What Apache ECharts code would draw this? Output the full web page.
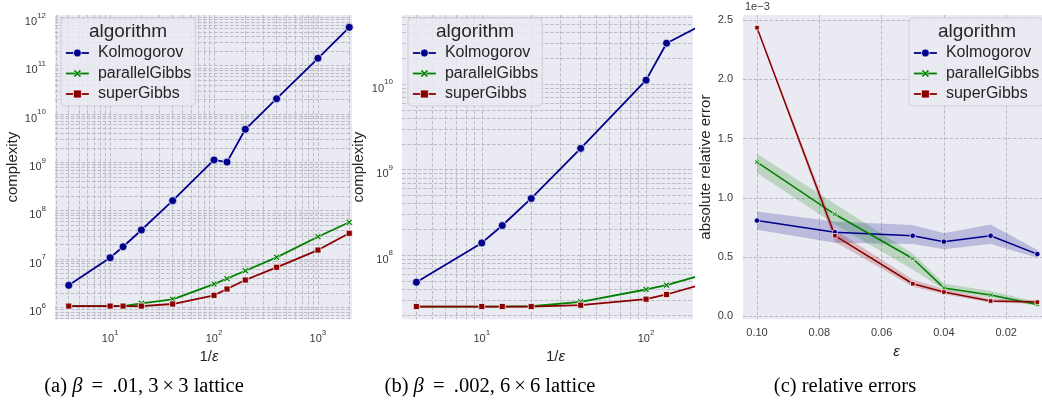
<!DOCTYPE html>
<html><head><meta charset="utf-8">
<script src="https://cdn.jsdelivr.net/npm/echarts@6/dist/echarts.min.js"></script>
<style>html,body{margin:0;padding:0;background:#fff}#c{width:1042px;height:402px}</style>
</head><body><div id="c"></div>
<script>
const SANS = 'Liberation Sans, Arial, Helvetica, sans-serif';
const SERIF = 'Liberation Serif, Times New Roman, serif';

const algorithms = ['Kolmogorov', 'parallelGibbs', 'superGibbs'];

// (a) beta = .01, 3x3 lattice : complexity vs 1/eps
const invEpsA = [4, 10, 13.33, 20, 40, 100, 133.3, 200, 400, 1000, 2000];
const kolmogorovA = [2.85e6, 1.06e7, 1.79e7, 3.98e7, 1.61e8, 1.12e9, 1.01e9, 4.82e9, 2.07e10, 1.42e11, 6.21e11];
const parallelGibbsA = [1.06e6, 1.06e6, 1.06e6, 1.21e6, 1.46e6, 3.03e6, 3.91e6, 5.72e6, 1.08e7, 2.89e7, 5.74e7];
const superGibbsA = [1.06e6, 1.06e6, 1.06e6, 1.06e6, 1.17e6, 1.77e6, 2.39e6, 3.67e6, 6.73e6, 1.53e7, 3.4e7];

// (b) beta = .002, 6x6 lattice
const invEpsB = [4, 10, 13.33, 20, 40, 100, 133.3, 200];
const kolmogorovB = [4.83e7, 1.39e8, 2.22e8, 4.6e8, 1.77e9, 1.11e10, 3.0e10, 4.5e10];
const parallelGibbsB = [2.51e7, 2.51e7, 2.51e7, 2.53e7, 2.85e7, 3.97e7, 4.46e7, 5.58e7];
const superGibbsB = [2.51e7, 2.51e7, 2.51e7, 2.51e7, 2.6e7, 3.06e7, 3.47e7, 4.34e7];

// (c) relative errors (absolute relative error) vs eps
const epsC = [0.1, 0.075, 0.05, 0.04, 0.025, 0.01];
const kolmogorovC = [0.808e-3, 0.71e-3, 0.68e-3, 0.63e-3, 0.68e-3, 0.525e-3];
const kolmogorovLoC = [0.73e-3, 0.62e-3, 0.61e-3, 0.565e-3, 0.61e-3, 0.495e-3];
const kolmogorovHiC = [0.885e-3, 0.80e-3, 0.77e-3, 0.70e-3, 0.775e-3, 0.56e-3];
const parallelGibbsC = [1.30e-3, 0.861e-3, 0.488e-3, 0.24e-3, 0.18e-3, 0.10e-3];
const parallelGibbsLoC = [1.21e-3, 0.775e-3, 0.395e-3, 0.227e-3, 0.157e-3, 0.087e-3];
const parallelGibbsHiC = [1.372e-3, 0.95e-3, 0.53e-3, 0.278e-3, 0.213e-3, 0.12e-3];
const superGibbsC = [2.435e-3, 0.68e-3, 0.275e-3, 0.205e-3, 0.129e-3, 0.12e-3];
const superGibbsLoC = [2.425e-3, 0.63e-3, 0.25e-3, 0.187e-3, 0.115e-3, 0.108e-3];
const superGibbsHiC = [2.445e-3, 0.73e-3, 0.31e-3, 0.23e-3, 0.148e-3, 0.136e-3];

const captions = [
  '(a) {i|β}\u2009 = \u2009.01, 3\u2009×\u20093 lattice',
  '(b) {i|β}\u2009 = \u2009.002, 6\u2009×\u20096 lattice',
  '(c) relative errors'
];

const COLORS = { Kolmogorov: '#00008B', parallelGibbs: '#008000', superGibbs: '#8B0000' };
const BANDS = { Kolmogorov: 'rgba(0,0,139,0.2)', parallelGibbs: 'rgba(0,128,0,0.2)', superGibbs: 'rgba(139,0,0,0.2)' };
const XPATH = 'path://M2,0L5,3L8,0L10,2L7,5L10,8L8,10L5,7L2,10L0,8L3,5L0,2Z';
const SYMBOLS = { Kolmogorov: 'circle', parallelGibbs: XPATH, superGibbs: 'rect' };
const GRIDC = '#bcbcc5';
const DASH = [3.5, 1.8];
const TXT = '#3a3a3a';

function pairs(xs, ys) { return xs.map((x, i) => [x, ys[i]]); }

function lineSeries(name, xs, ys, gi, sizes, lw) {
  return {
    type: 'line', name: name, xAxisIndex: gi, yAxisIndex: gi,
    data: pairs(xs, ys), symbol: SYMBOLS[name], symbolSize: sizes[name],
    showSymbol: true, clip: true,
    lineStyle: { color: COLORS[name], width: lw, type: 'solid' },
    itemStyle: { color: COLORS[name], borderColor: '#fff', borderWidth: 0.7 },
    emphasis: { disabled: true }, animation: false
  };
}

function bandSeries(name, xs, lo, hi, gi) {
  return {
    type: 'custom', name: name + ' ci', xAxisIndex: gi, yAxisIndex: gi,
    data: xs.map((x, i) => [x, lo[i], hi[i]]),
    encode: { x: 0, y: [1, 2] },
    silent: true, animation: false,
    renderItem: function (params, api) {
      if (params.dataIndex !== 0) return null;
      const up = xs.map((x, i) => api.coord([x, hi[i]]));
      const dn = xs.map((x, i) => api.coord([x, lo[i]])).reverse();
      return { type: 'polygon', shape: { points: up.concat(dn) }, style: { fill: BANDS[name] } };
    }
  };
}

function powLabel(v) {
  const e = Math.log10(v), r = Math.round(e);
  if (Math.abs(e - r) > 1e-6) return '';
  return '{b|10}{s|' + r + '}';
}
const POW_RICH = {
  b: { fontSize: 11, fontFamily: SANS, color: TXT, lineHeight: 16, verticalAlign: 'bottom' },
  s: { fontSize: 8, fontFamily: SANS, color: TXT, verticalAlign: 'top' }
};

function logAxis(gi, min, max, isY) {
  return {
    type: 'log', logBase: 10, gridIndex: gi, min: min, max: max,
    axisLine: { show: false }, axisTick: { show: false },
    splitLine: { show: true, showMinLine: false, showMaxLine: false, lineStyle: { color: GRIDC, type: DASH, width: 1 } },
    minorTick: { show: false, splitNumber: 9 },
    minorSplitLine: { show: true, lineStyle: { color: GRIDC, type: DASH, width: 1 } },
    axisLabel: { formatter: powLabel, rich: POW_RICH, margin: isY ? 9 : 9.5, padding: isY ? [4, 0, 0, 0] : 0 }
  };
}

const nameStyle = { fontFamily: SANS, fontSize: 15, color: '#262626', lineHeight: 15 };
const epsRich = { i: { fontFamily: SANS, fontSize: 15, fontStyle: 'italic', color: '#262626' } };

const sizesAB = { Kolmogorov: 8, parallelGibbs: 6.5, superGibbs: 6 };
const sizesC = { Kolmogorov: 5.5, parallelGibbs: 5, superGibbs: 4.5 };

function legendAt(left) {
  return {
    data: algorithms, orient: 'vertical', left: left, top: 18,
    padding: [27, 4, 4, 4], itemGap: 4.5, itemWidth: 23, itemHeight: 10,
    lineStyle: { type: 'solid', width: 1.8, opacity: 1 },
    itemStyle: { borderColor: '#fff', borderWidth: 0.7 },
    textStyle: { fontFamily: SANS, fontSize: 16, color: '#262626', lineHeight: 16, padding: [0, 0, 0, 4] },
    backgroundColor: 'rgba(234,234,242,0.85)', borderColor: '#cfcfd4', borderWidth: 1, borderRadius: 4,
    selectedMode: false
  };
}

function legendTitle(x) {
  return { type: 'text', x: x, y: 32, z: 100, silent: true,
    style: { text: 'algorithm', fontFamily: SANS, fontSize: 19, fill: '#262626', align: 'center', verticalAlign: 'middle' } };
}
function captionText(x, t) {
  return { type: 'text', x: x, y: 387, silent: true,
    style: { text: t, fontFamily: SERIF, fontSize: 20.5, fill: '#000', align: 'center', verticalAlign: 'middle',
      rich: { i: { fontFamily: SERIF, fontSize: 20.5, fontStyle: 'italic', fill: '#000' } } } };
}

const series = [];
[['Kolmogorov', kolmogorovA], ['parallelGibbs', parallelGibbsA], ['superGibbs', superGibbsA]].forEach(p => series.push(lineSeries(p[0], invEpsA, p[1], 0, sizesAB, 1.8)));
[['Kolmogorov', kolmogorovB], ['parallelGibbs', parallelGibbsB], ['superGibbs', superGibbsB]].forEach(p => series.push(lineSeries(p[0], invEpsB, p[1], 1, sizesAB, 1.8)));
[['Kolmogorov', kolmogorovC, kolmogorovLoC, kolmogorovHiC],
 ['parallelGibbs', parallelGibbsC, parallelGibbsLoC, parallelGibbsHiC],
 ['superGibbs', superGibbsC, superGibbsLoC, superGibbsHiC]].forEach(p => {
  series.push(lineSeries(p[0], epsC, p[1], 2, sizesC, 1.5));
  series.push(bandSeries(p[0], epsC, p[2], p[3], 2));
});

const option = {
  backgroundColor: '#fff',
  animation: false,
  textStyle: { fontFamily: SANS },
  grid: [
    { left: 55, top: 15, width: 297, height: 304.3, show: true, backgroundColor: '#EAEAF2', borderWidth: 0 },
    { left: 402, top: 15, width: 291, height: 304.3, show: true, backgroundColor: '#EAEAF2', borderWidth: 0 },
    { left: 743, top: 15, width: 299, height: 304.3, show: true, backgroundColor: '#EAEAF2', borderWidth: 0 }
  ],
  xAxis: [
    Object.assign(logAxis(0, 2.95, 2126, false), {
      name: '1/{i|ε}', nameLocation: 'middle', nameGap: 28,
      nameTextStyle: Object.assign({}, nameStyle, { rich: epsRich, padding: [0, 0, 0, 11] }) }),
    Object.assign(logAxis(1, 3.27, 193, false), {
      name: '1/{i|ε}', nameLocation: 'middle', nameGap: 28,
      nameTextStyle: Object.assign({}, nameStyle, { rich: epsRich, padding: [0, 0, 0, 16] }) }),
    {
      type: 'value', gridIndex: 2, min: 0.0085, max: 0.1045, inverse: true,
      axisLine: { show: false }, axisTick: { show: false },
      splitLine: { show: true, showMinLine: false, showMaxLine: false, lineStyle: { color: GRIDC, type: DASH, width: 1 } },
      axisLabel: { showMinLabel: false, showMaxLabel: false, margin: 7, fontSize: 11, color: TXT, lineHeight: 13,
        formatter: v => v.toFixed(2) },
      name: '{i|ε}', nameLocation: 'middle', nameGap: 24,
      nameTextStyle: Object.assign({}, nameStyle, { rich: epsRich, padding: [0, 0, 0, 8] })
    }
  ],
  yAxis: [
    Object.assign(logAxis(0, 5.65e5, 1.117e12, true), {
      name: 'complexity', nameLocation: 'middle', nameGap: 35, nameRotate: 90, nameTextStyle: nameStyle }),
    Object.assign(logAxis(1, 1.78e7, 6.41e10, true), {
      name: 'complexity', nameLocation: 'middle', nameGap: 35.5, nameRotate: 90, nameTextStyle: nameStyle }),
    {
      type: 'value', gridIndex: 2, min: -0.025e-3, max: 2.542e-3,
      axisLine: { show: false }, axisTick: { show: false },
      splitLine: { show: true, showMinLine: false, showMaxLine: false, lineStyle: { color: GRIDC, type: DASH, width: 1 } },
      axisLabel: { showMinLabel: false, showMaxLabel: false, margin: 10, fontSize: 11, color: TXT,
        formatter: v => (v * 1000).toFixed(1) },
      name: 'absolute relative error', nameLocation: 'middle', nameGap: 29.5, nameRotate: 90, nameTextStyle: nameStyle
    }
  ],
  legend: [legendAt(61), legendAt(408), legendAt(909)],
  graphic: [
    legendTitle(128), legendTitle(475), legendTitle(977),
    { type: 'text', x: 745, y: 7, silent: true,
      style: { text: '1e\u22123', fontFamily: SANS, fontSize: 11, fill: TXT, align: 'left', verticalAlign: 'middle' } },
    captionText(144, captions[0]), captionText(490, captions[1]), captionText(845, captions[2])
  ],
  series: series
};

const chart = echarts.init(document.getElementById('c'), null, { renderer: 'canvas' });
chart.setOption(option);
</script>
</body></html>
